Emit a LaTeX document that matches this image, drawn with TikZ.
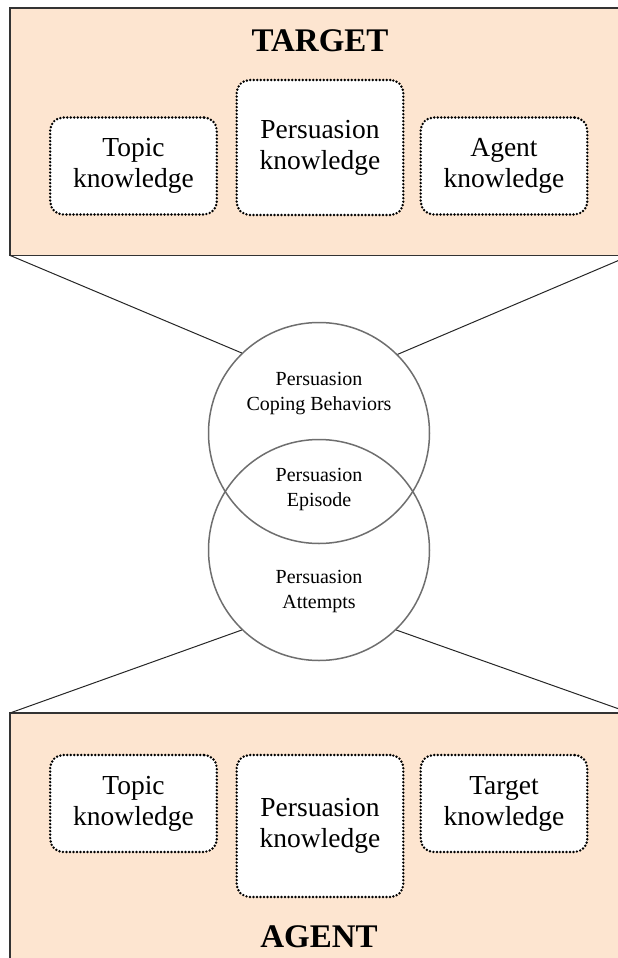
\documentclass[tikz,border=0pt]{standalone}
\usepackage{fontspec}
\setmainfont{Liberation Serif}
\definecolor{peach}{HTML}{FDE5D0}
\definecolor{ringgray}{HTML}{6E6E6E}

\tikzset{
  panel/.style={fill=peach, minimum width=620pt, anchor=north west, inner sep=0pt},
  kbox/.style={draw=black, line width=2.7pt, dash pattern=on 0pt off 3.5pt, line cap=round,
    rounded corners=13pt, fill=white, align=center, text width=160pt,
    minimum width=165pt, minimum height=97pt, font=\fontsize{27.5}{31}\selectfont},
  venn/.style={circle, draw=ringgray, line width=1.5pt, minimum size=221pt, inner sep=0pt},
  vlabel/.style={align=center, font=\fontsize{20}{25}\selectfont},
  title/.style={font=\bfseries\fontsize{33}{36}\selectfont},
  link/.style={draw=black!85, line width=1pt},
}

\begin{document}
\begin{tikzpicture}[x=1pt, y=-1pt]
\useasboundingbox (0,0) rectangle (618,958);
\clip (0,0) rectangle (618,958);

% Target panel
\node[panel, minimum height=247pt] (target) at (10,8) {};
\draw[line width=1.6pt, black!80] (target.north east) -- (target.north west) -- (target.south west) -- (target.south east);
\node[title] (ttitle) at (320,41) {TARGET};
\node[kbox] (ttopic) at (133.5,166) {Topic\\knowledge};
\node[kbox, minimum height=135pt] (tpers) at (320,147.5) {Persuasion\\knowledge};
\node[kbox] (tagent) at (504,166) {Agent\\knowledge};

% Agent panel
\node[panel, minimum height=260pt] (agent) at (10,713) {};
\draw[line width=1.6pt, black!80] (agent.north east) -- (agent.north west) -- (agent.south west);
\node[kbox] (atopic) at (133.5,803.5) {Topic\\knowledge};
\node[kbox, minimum height=142pt] (apers) at (320,826) {Persuasion\\knowledge};
\node[kbox] (atarget) at (504,803.5) {Target\\knowledge};
\node[title] (atitle) at (319,937) {AGENT};

% Venn circles
\node[venn] (coping) at (319,433) {};
\node[venn] (attempt) at (319,550) {};
\node[vlabel] (lcoping) at (319,394) {Persuasion\\Coping Behaviors};
\node[vlabel] (lepisode) at (319,490) {Persuasion\\Episode};
\node[vlabel] (lattempt) at (319,592) {Persuasion\\Attempts};

% Connectors
\draw[link] (target.south west) -- (coping.134);
\draw[link] (target.south east) -- (coping.45);
\draw[link] (agent.north west) -- (attempt.226);
\draw[link] (agent.north east) -- (attempt.314);
\end{tikzpicture}
\end{document}
